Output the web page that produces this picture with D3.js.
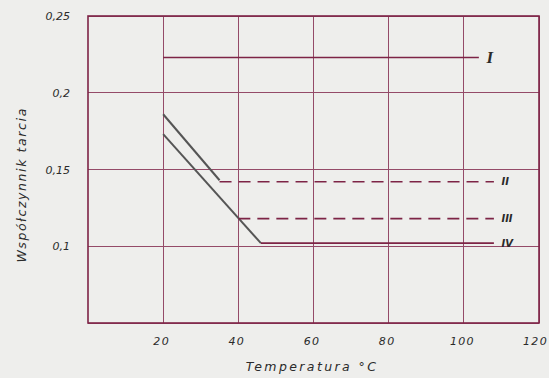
<!DOCTYPE html>
<html>
<head>
<meta charset="utf-8">
<script src="https://cdn.jsdelivr.net/npm/d3@7"></script>
<style>
  body { margin: 0; background: #eeeeec; }
  text { font-family: "DejaVu Sans", sans-serif; font-style: italic; fill: #2a2a2a; }
</style>
</head>
<body>
<div id="chart"></div>
<script>
// data
var xTicks = [20, 40, 60, 80, 100, 120];
var xTickLabels = ["20", "40", "60", "80", "100", "120"];
var yTicks = [0.1, 0.15, 0.2, 0.25];
var yTickLabels = ["0,1", "0,15", "0,2", "0,25"];
var yGrid = [0.05, 0.1, 0.15, 0.2, 0.25];

// curve I
var lineI = [[20, 0.223], [104, 0.223]];
// curve II: sloped part, then dashed level
var lineIIslope = [[20, 0.186], [35, 0.143]];
var lineIIlevel = [[35, 0.142], [108, 0.142]];
// curves III and IV share the lower sloped line
var lineLowSlope = [[20, 0.173], [46, 0.102]];
var lineIIIlevel = [[40, 0.118], [108, 0.118]];
var lineIVlevel = [[46, 0.102], [108, 0.102]];

var curveLabels = ["I", "II", "III", "IV"];
var curveLabelY = [0.223, 0.142, 0.118, 0.102];

var svgWidth = 549;
var svgHeight = 378;
var margin = { top: 16, right: 10, bottom: 55, left: 88 };
var width = svgWidth - margin.left - margin.right;
var height = svgHeight - margin.top - margin.bottom;

var maroon = "#7d2446";
var gridColor = "#944a68";
var grey = "#555";

var svg = d3.select("#chart")
  .append("svg")
  .attr("width", svgWidth)
  .attr("height", svgHeight);

var chartGroup = svg.append("g")
  .attr("transform", `translate(${margin.left}, ${margin.top})`);

var x = d3.scaleLinear().domain([0, 120]).range([0, width]);
var y = d3.scaleLinear().domain([0.05, 0.25]).range([height, 0]);

// grid lines
chartGroup.selectAll(".vgrid")
  .data(xTicks)
  .enter()
  .append("line")
  .attr("x1", d => x(d)).attr("x2", d => x(d))
  .attr("y1", 0).attr("y2", height)
  .attr("stroke", gridColor)
  .attr("stroke-width", 1)
  .attr("shape-rendering", "crispEdges");

chartGroup.selectAll(".hgrid")
  .data(yGrid)
  .enter()
  .append("line")
  .attr("x1", 0).attr("x2", width)
  .attr("y1", d => y(d)).attr("y2", d => y(d))
  .attr("stroke", gridColor)
  .attr("stroke-width", 1)
  .attr("shape-rendering", "crispEdges");

// frame
chartGroup.append("rect")
  .attr("width", width)
  .attr("height", height)
  .attr("fill", "none")
  .attr("stroke", maroon)
  .attr("stroke-width", 1.6);

// tick labels
var bottomAxis = d3.axisBottom(x).tickValues(xTicks)
  .tickFormat((d, i) => xTickLabels[i]).tickSize(0).tickPadding(14);
var gx = chartGroup.append("g")
  .attr("transform", `translate(0, ${height})`)
  .call(bottomAxis);
gx.select(".domain").remove();
gx.selectAll("text")
  .style("font-size", "11px")
  .style("letter-spacing", "1.3px")
  .style("font-family", "DejaVu Sans")
  .style("font-style", "italic")
  .attr("dx", (d, i) => i == xTicks.length - 1 ? -4 : -2)
  .attr("fill", "#2a2a2a");

var leftAxis = d3.axisLeft(y).tickValues(yTicks)
  .tickFormat((d, i) => yTickLabels[i]).tickSize(0).tickPadding(18);
var gy = chartGroup.append("g").call(leftAxis);
gy.select(".domain").remove();
gy.selectAll("text")
  .style("font-size", "11px")
  .style("font-family", "DejaVu Sans")
  .style("font-style", "italic")
  .attr("fill", "#2a2a2a");

// curves
var line = d3.line().x(d => x(d[0])).y(d => y(d[1]));

chartGroup.append("path").datum(lineI)
  .attr("d", line).attr("fill", "none")
  .attr("stroke", maroon).attr("stroke-width", 1.6);

chartGroup.append("path").datum(lineIIslope)
  .attr("d", line).attr("fill", "none")
  .attr("stroke", grey).attr("stroke-width", 2);

chartGroup.append("path").datum(lineLowSlope)
  .attr("d", line).attr("fill", "none")
  .attr("stroke", grey).attr("stroke-width", 2);

chartGroup.append("path").datum(lineIIlevel)
  .attr("d", line).attr("fill", "none")
  .attr("stroke", maroon).attr("stroke-width", 1.6)
  .attr("stroke-dasharray", "12,7");

chartGroup.append("path").datum(lineIIIlevel)
  .attr("d", line).attr("fill", "none")
  .attr("stroke", maroon).attr("stroke-width", 1.6)
  .attr("stroke-dasharray", "12,7");

chartGroup.append("path").datum(lineIVlevel)
  .attr("d", line).attr("fill", "none")
  .attr("stroke", maroon).attr("stroke-width", 1.8);

// curve labels
chartGroup.selectAll(".clabel")
  .data(curveLabels)
  .enter()
  .append("text")
  .attr("x", (d, i) => i == 0 ? x(106) : x(110))
  .attr("y", (d, i) => y(curveLabelY[i]))
  .attr("dy", "0.35em")
  .style("font-family", (d, i) => i == 0 ? "Liberation Serif" : "DejaVu Sans")
  .style("font-size", (d, i) => i == 0 ? "17px" : "10px")
  .style("font-weight", "bold")
  .text(d => d);

// axis titles
svg.append("text")
  .attr("transform", `translate(26, ${margin.top + height * 0.55}) rotate(-90)`)
  .style("text-anchor", "middle")
  .style("font-size", "12.5px")
  .style("letter-spacing", "1.6px")
  .text("Współczynnik tarcia");

svg.append("text")
  .attr("x", 312)
  .attr("y", 371)
  .style("text-anchor", "middle")
  .style("font-size", "12.5px")
  .style("letter-spacing", "2.4px")
  .text("Temperatura °C");
</script>
</body>
</html>
